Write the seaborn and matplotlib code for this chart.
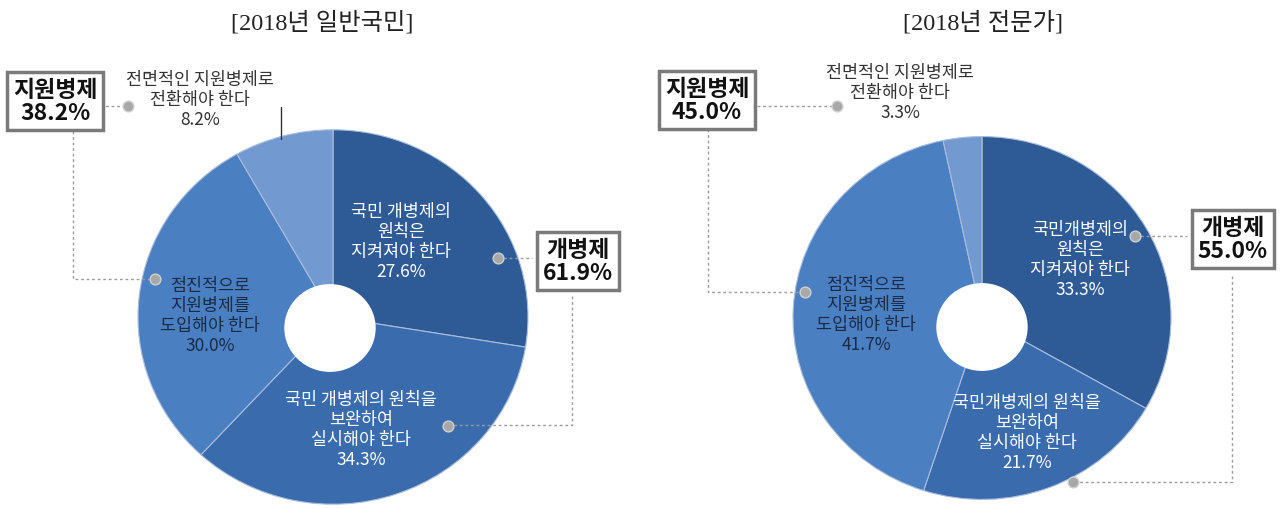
"""
Two donut charts: opinions on the conscription system (2018, public vs experts).
"""

import numpy as np
import matplotlib
matplotlib.use('Agg')
import matplotlib.pyplot as plt
import seaborn as sns

# Data
titles = ['[2018년 일반국민]', '[2018년 전문가]']
public_labels = ['국민 개병제의\n원칙은\n지켜져야 한다',
                 '국민 개병제의 원칙을\n보완하여\n실시해야 한다',
                 '점진적으로\n지원병제를\n도입해야 한다',
                 '전면적인 지원병제로\n전환해야 한다']
public_values = [27.6, 34.3, 30.0, 8.2]
expert_labels = ['국민개병제의\n원칙은\n지켜져야 한다',
                 '국민개병제의 원칙을\n보완하여\n실시해야 한다',
                 '점진적으로\n지원병제를\n도입해야 한다',
                 '전면적인 지원병제로\n전환해야 한다']
expert_values = [33.3, 21.7, 41.7, 3.3]
group_names = ['개병제', '지원병제']
public_groups = [61.9, 38.2]
expert_groups = [55.0, 45.0]

# Styling
sns.set_style('white')
plt.rcParams['font.family'] = ['Noto Sans CJK KR', 'DejaVu Sans']
COLORS = ['#2e5b96', '#3a6cad', '#4a7fc2', '#7399d1']
TEXT_COLORS = ['white', 'white', '#1b2a45', '#333333']
GRAY = '#9a9a9a'

W, H = 1285, 510
SQ = 0.96  # donuts are drawn slightly squashed vertically


def Y(py):
    """Pixel row -> data y."""
    return (H - py) / SQ


# layout per panel (pixel coords)
LAYOUT = [
    dict(center=(333, 318), r=195, hole=(330, 329), hr=45, title_x=322,
         label_pos=[(401, 242), (361, 430), (210, 316), (200, 100)],
         dots=[(498, 259), (448, 427), (155, 280), (128, 107)],
         box_pos=[(578, 262), (55, 102)],
         leaders=[[(498, 259), (532, 259)], [(572, 297), (572, 426), (448, 426)],
                  [(100, 107), (128, 107)], [(73, 132), (73, 280), (155, 280)]],
         tick=[(281, 108), (281, 140)]),
    dict(center=(982, 319), r=189, hole=(982, 328), hr=45, title_x=983,
         label_pos=[(1080, 260), (1027, 433), (866, 315), (900, 93)],
         dots=[(1135, 237), (1073, 483), (805, 293), (837, 107)],
         box_pos=[(1233, 240), (707, 101)],
         leaders=[[(1135, 237), (1187, 237)], [(1232, 277), (1232, 483), (1073, 483)],
                  [(746, 107), (837, 107)], [(708, 130), (708, 293), (805, 293)]],
         tick=None),
]


def draw_panel(ax, title, labels, values, groups, lay):
    cx, cy = lay['center']
    ax.pie(values, startangle=90, counterclock=False, colors=COLORS,
           radius=lay['r'], center=(cx, Y(cy)),
           wedgeprops=dict(edgecolor='#a9bddd', linewidth=0.8))
    hx, hy = lay['hole']
    ax.add_patch(plt.Circle((hx, Y(hy)), lay['hr'], color='white', zorder=3))

    ax.text(lay['title_x'], Y(23), title, ha='center', va='center', fontsize=17.5,
            family=['Liberation Serif', 'Noto Sans CJK KR'], color='#222222')

    # leader lines
    for pts in lay['leaders']:
        xs = [p[0] for p in pts]
        ys = [Y(p[1]) for p in pts]
        ax.plot(xs, ys, color=GRAY, lw=1, ls=(0, (2, 2)), zorder=2)
    if lay['tick'] is not None:
        (x0, y0), (x1, y1) = lay['tick']
        ax.plot([x0, x1], [Y(y0), Y(y1)], color='#333333', lw=1, zorder=2)

    for (dx, dy) in lay['dots']:
        ax.scatter([dx], [Y(dy)], s=60, color='#a8a8a8', edgecolor='#d0d0d0',
                   linewidth=1, zorder=5)

    for lab, val, (lx, ly), tc in zip(labels, values, lay['label_pos'], TEXT_COLORS):
        ax.text(lx, Y(ly), f'{lab}\n{val:.1f}%', ha='center', va='center',
                fontsize=12.5, color=tc, linespacing=1.12, zorder=6)

    for name, val, (bx, by) in zip(group_names, groups, lay['box_pos']):
        ax.text(bx, Y(by), f'{name}\n{val:.1f}%', ha='center', va='center',
                fontsize=16.5, fontweight='bold', color='#111111', linespacing=1.0,
                zorder=6,
                bbox=dict(boxstyle='square,pad=0.25', fc='white', ec='#7a7a7a', lw=2.5))


fig = plt.figure(figsize=(W / 100, H / 100), dpi=100)
ax = fig.add_axes([0, 0, 1, 1])

draw_panel(ax, titles[0], public_labels, public_values, public_groups, LAYOUT[0])
draw_panel(ax, titles[1], expert_labels, expert_values, expert_groups, LAYOUT[1])

ax.set_xlim(0, W)
ax.set_ylim(0, H / SQ)
ax.set_aspect('auto')
ax.axis('off')

plt.savefig('out.png', dpi=100)
plt.close()
